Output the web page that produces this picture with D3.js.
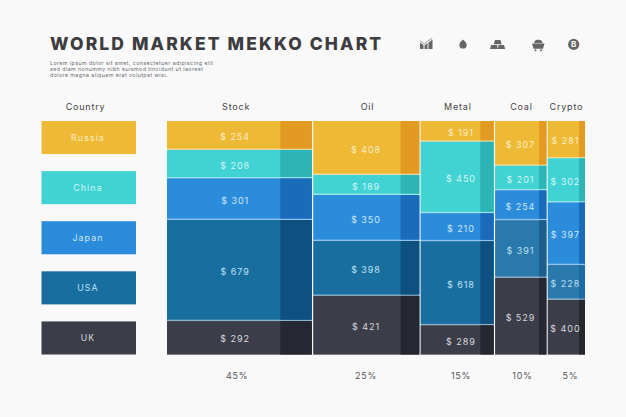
<!DOCTYPE html>
<html><head><meta charset="utf-8">
<script src="https://cdn.jsdelivr.net/npm/d3@7/dist/d3.min.js"></script>
<style>
html,body{margin:0;padding:0;background:#f9f9fa;overflow:hidden}
text{font-family:"Inter","Open Sans",sans-serif}
</style></head><body><svg id="c" width="626" height="417"></svg>
<script>
const title = "WORLD MARKET MEKKO CHART";
const blurb = ["Lorem ipsum dolor sit amet, consectetuer adipiscing elit","sed diam nonummy nibh euismod tincidunt ut laoreet","dolore magna aliquam erat volutpat wisi."];
const countries = ["Russia","China","Japan","USA","UK"];
const markets = ["Stock","Oil","Metal","Coal","Crypto"];
const shareLabels = ["45%","25%","15%","10%","5%"];
// printed dollar labels per market, top to bottom
const stockValues = [254,208,301,679,292];
const oilValues = [408,189,350,398,421];
const metalValues = [191,450,210,618,289];
const coalValues = [307,201,254,391,529];
const cryptoValues = [281,302,397,228,400];
// column widths and row heights as drawn (percent)
const drawnColumnWidths = [35.0,25.7,17.8,12.6,8.9];
const drawnDarkShare = [21.6,17.5,18,14,16];
const stockHeights = [12.4,12.2,17.8,43.3,14.3];
const oilHeights = [23.1,8.6,19.7,23.5,25.1];
const metalHeights = [8.9,30.6,12,36,12.5];
const coalHeights = [19.2,10.5,12.8,24.7,32.8];
const cryptoHeights = [16,18.9,26.8,14.9,23.4];
const fills = ["#eeb935","#41d3d3","#2a8cda","#186f9f","#3b3d49"];
const darks = ["#e29a23","#2db5b5","#1a6cbb","#0e5180","#262831"];
const labelInk = ["#fbeec4","#d4f6f5","#cfe6f8","#bfe0f2","#d8d9de"];
// the USA cells of the two narrow columns are a lighter blue
const usaFillByMarket = ["#186f9f","#186f9f","#186f9f","#2a79ad","#2a79ad"];
const usaDarkByMarket = ["#0e5180","#0e5180","#0e5180","#1b5f8a","#1a6ba6"];

const allValues = [stockValues,oilValues,metalValues,coalValues,cryptoValues];
const allHeights = [stockHeights,oilHeights,metalHeights,coalHeights,cryptoHeights];
const svg = d3.select("#c");
const x = d3.scaleLinear().domain([0,100]).range([167,585]);
const y = d3.scaleLinear().domain([0,100]).range([121,354.5]);
const legendY = d3.scaleBand().domain(countries).range([121,354.5]).paddingInner(0.34).paddingOuter(0);
const gap = 1.4;
const textNudge = [-5,-1,3,-1,-1];

svg.append("text").text(title).attr("x",50).attr("y",49.5)
  .attr("fill","#3d3d3f").attr("font-size",17.5).attr("font-weight",800).attr("letter-spacing",2.1);
svg.append("g").selectAll("text").data(blurb).join("text").text(d=>d)
  .attr("x",50).attr("y",(d,i)=>65+i*6).attr("font-size",5.3).attr("letter-spacing",0.42).attr("fill","#6a6a6e");

// legend
svg.append("text").text("Country").attr("x",85.5).attr("y",109.5).attr("text-anchor","middle")
  .attr("font-size",9).attr("letter-spacing",0.8).attr("fill","#444");
const lg = svg.append("g").selectAll("g").data(countries).join("g");
lg.append("rect").attr("x",41.5).attr("width",94.5).attr("y",d=>legendY(d)).attr("height",legendY.bandwidth())
  .attr("fill",(d,i)=>fills[i]);
lg.append("text").text(d=>d).attr("x",88).attr("y",d=>legendY(d)+legendY.bandwidth()/2+3)
  .attr("text-anchor","middle").attr("font-size",8.8).attr("letter-spacing",1.1).attr("fill",(d,i)=>labelInk[i]);

// mekko columns
let xAcc = 0;
markets.forEach((m,c)=>{
  const x0 = x(xAcc), x1 = x(xAcc+drawnColumnWidths[c]);
  const right = c===markets.length-1 ? x1 : x1-gap;
  const cx = (x0+x1)/2;
  const darkW = (x1-x0)*drawnDarkShare[c]/100;
  svg.append("text").text(m).attr("x",cx+[-4,0.5,0,0,0][c]).attr("y",109.5).attr("text-anchor","middle")
    .attr("font-size",9).attr("letter-spacing",0.8).attr("fill","#444");
  svg.append("text").text(shareLabels[c]).attr("x",cx+[-3,-1,3,1,4][c]).attr("y",379).attr("text-anchor","middle")
    .attr("font-size",9).attr("letter-spacing",0.7).attr("fill","#555");
  let yAcc = 0;
  allHeights[c].forEach((h,r)=>{
    const y0 = y(yAcc), y1 = y(yAcc+h);
    const bottom = r===4 ? y1 : y1-gap;
    const f = r===3 ? usaFillByMarket[c] : fills[r];
    const dk = r===3 ? usaDarkByMarket[c] : darks[r];
    // pale tinted rule under each row
    svg.append("rect").attr("x",x0).attr("y",y0).attr("width",right-x0).attr("height",y1-y0).attr("fill",f).attr("opacity",0.5);
    svg.append("rect").attr("x",x0).attr("y",y0).attr("width",right-x0).attr("height",bottom-y0).attr("fill",f);
    svg.append("rect").attr("x",right-darkW).attr("y",y0).attr("width",darkW).attr("height",bottom-y0).attr("fill",dk);
    svg.append("text").text("$ "+allValues[c][r]).attr("x",cx+textNudge[c]).attr("y",(y0+y1)/2+4.6)
      .attr("text-anchor","middle").attr("font-size",9).attr("letter-spacing",0.95).attr("fill",labelInk[r]);
    yAcc += h;
  });
  xAcc += drawnColumnWidths[c];
});

// header icons
const ic = svg.append("g").attr("fill","#666");
ic.append("path").attr("d","M420 49V42.5l3.5 2.5V49zM424.5 49v-3.5l3-2.5V49zM428.5 49v-6.5l4-3V49z");
ic.append("path").attr("d","M420.5 41l4 3 3-3 4.5-2.5").attr("fill","none").attr("stroke","#888").attr("stroke-width",0.8);
ic.append("path").attr("d","M463 39.5c1.5 1.5 3.7 3 3.7 5.4a3.7 3.7 0 0 1-7.4 0c0-2.4 2.2-3.9 3.7-5.4z");
ic.append("path").attr("d","M495 40h5.5l1.2 4.2h-8zM491.2 45h5.8l.8 4H490zM498.6 45h5.4l1.2 4h-7.4z");
ic.append("path").attr("d","M532 43.5h12.5l-1.5 5.2h-9.5zM534 43c.5-2.5 2.5-3.7 4.2-3.2 2-.6 4.3.9 4.3 3.2z");
ic.append("circle").attr("cx",535.5).attr("cy",50.3).attr("r",1);
ic.append("circle").attr("cx",541).attr("cy",50.3).attr("r",1);
ic.append("circle").attr("cx",573.7).attr("cy",44.4).attr("r",5.6);
ic.append("text").text("B").attr("x",573.7).attr("y",47.3).attr("text-anchor","middle").attr("font-size",8).attr("font-weight",700).attr("fill","#f9f9fa");
</script></body></html>
